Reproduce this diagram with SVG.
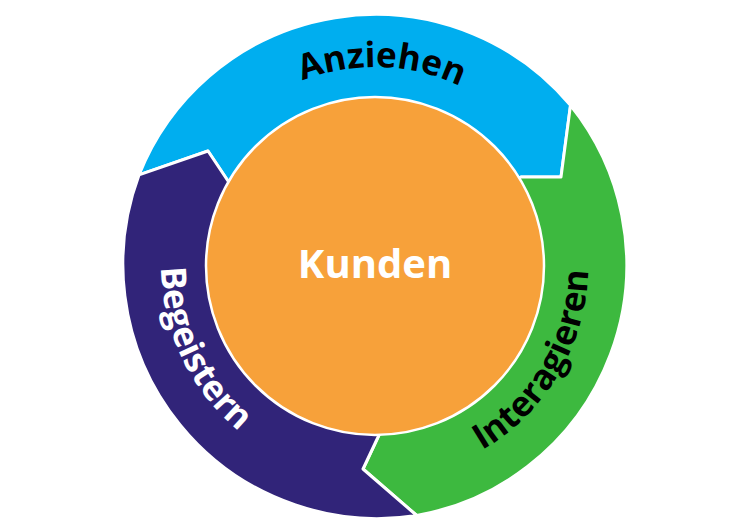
<svg xmlns="http://www.w3.org/2000/svg" width="750" height="530" viewBox="0 0 750 530">
<defs>
<style>
.seg{stroke:#fff;stroke-width:3;stroke-linejoin:round}
.lbl{font-family:"Open Sans","Liberation Sans",sans-serif;font-weight:700;font-size:35px}
</style>
<path id="pA" d="M188,197.9 A199,199 0 0 1 562,197.9"/>
<path id="pB" d="M173.9,192.8 A214,214 0 0 0 412.2,476.7"/>
<path id="pI" d="M338,475.8 A213,213 0 0 0 575.2,193.1"/>
</defs>
<rect width="750" height="530" fill="#fff"/>
<g id="anziehen">
<path class="seg" fill="#00AEEF" d="M139,174.9 A254.5,254.5 0 0 1 570.5,105.4 L561,177 L521,177 L375,266 L228,181 L208,151 Z"/>
<text class="lbl" fill="#000"><textPath href="#pA" startOffset="51.4%" text-anchor="middle">Anziehen</textPath></text>
</g>
<g id="interagieren">
<path class="seg" fill="#3DB93F" d="M570.5,105.4 A254.5,254.5 0 0 1 416.7,515.5 L363,469 L379,435 L375,266 L521,177 L561,177 Z"/>
<text class="lbl" fill="#000"><textPath href="#pI" startOffset="57.9%" text-anchor="middle">Interagieren</textPath></text>
</g>
<g id="begeistern">
<path class="seg" fill="#312479" d="M416.7,515.5 A254.5,254.5 0 0 1 139,174.9 L208,151 L228,181 L375,266 L379,435 L363,469 Z"/>
<text class="lbl" fill="#fff"><textPath href="#pB" startOffset="37.9%" text-anchor="middle">Begeistern</textPath></text>
</g>
<g id="kunden">
<circle cx="375" cy="266" r="169" fill="#F7A13A" stroke="#fff" stroke-width="2.5"/>
<text x="375" y="278" text-anchor="middle" font-family="Open Sans, Liberation Sans, sans-serif" font-weight="700" font-size="40" fill="#fff">Kunden</text>
</g>
</svg>
